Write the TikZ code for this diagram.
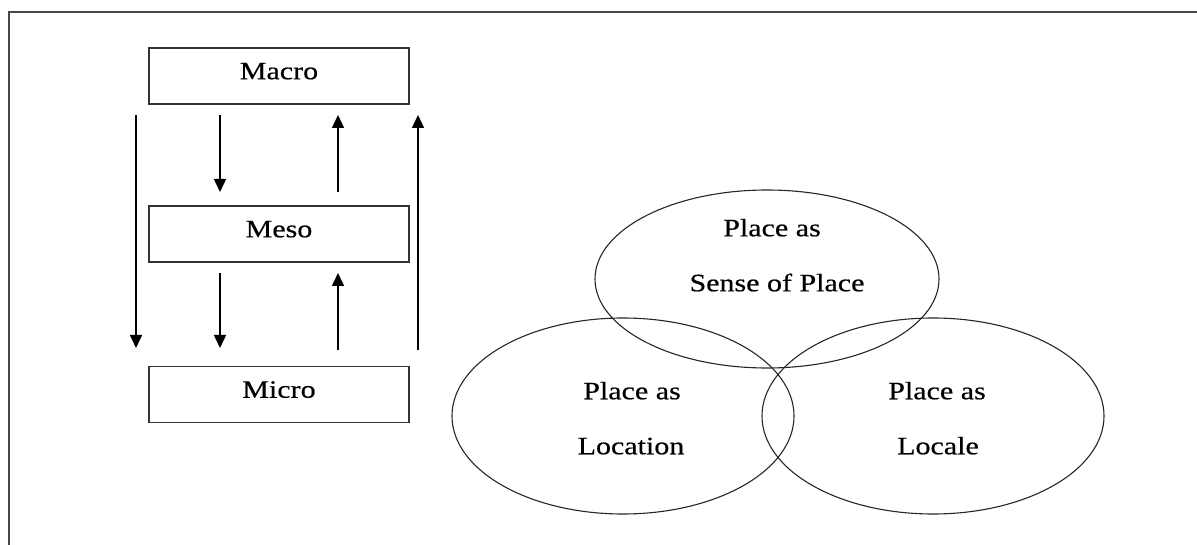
\documentclass[tikz,border=0pt]{standalone}
\usepackage{fontspec}
\setmainfont{Liberation Serif}[FakeStretch=1.2,FakeBold=0.5,AutoFakeBold=0.5]
\usetikzlibrary{arrows.meta,shapes.geometric}
\begin{document}
\begin{tikzpicture}[x=1pt,y=-1pt,
  frame/.style={draw=black!72,line width=1.6pt},
  lvl/.style={draw=black!80,line width=1.3pt,minimum width=260pt,minimum height=56pt,
    inner sep=0pt,text height=16.5pt,text depth=10pt,font=\fontsize{25}{30}\selectfont},
  circ/.style={draw=black!85,line width=1.1pt,ellipse,inner sep=0pt},
  lbl/.style={inner sep=0pt,text height=16.5pt,text depth=0pt,font=\fontsize{25}{30}\selectfont},
  flow/.style={line width=1.5pt,-{Triangle[length=13pt,width=12pt]}}]
\useasboundingbox (0,0) rectangle (1197,545);
\draw[frame] (9,545) -- (9,12) -- (1197,12);
% level boxes
\node[lvl] (macro) at (279,76) {Macro};
\node[lvl] (meso) at (279,234) {Meso};
\node[lvl] (micro) at (279,394.5) {Micro};
% arrow end points
\coordinate (a1s) at (136,115); \coordinate (a1e) at (136,348);
\coordinate (a2s) at (220,115); \coordinate (a2e) at (220,192);
\coordinate (a3s) at (220,273); \coordinate (a3e) at (220,348);
\coordinate (a4s) at (338,192); \coordinate (a4e) at (338,115);
\coordinate (a5s) at (338,350); \coordinate (a5e) at (338,273);
\coordinate (a6s) at (418,350); \coordinate (a6e) at (418,115);
\draw[flow] (a1s) -- (a1e);
\draw[flow] (a2s) -- (a2e);
\draw[flow] (a3s) -- (a3e);
\draw[flow] (a4s) -- (a4e);
\draw[flow] (a5s) -- (a5e);
\draw[flow] (a6s) -- (a6e);
% ellipses
\node[circ,minimum width=344pt,minimum height=178pt] (sense) at (767,279) {};
\node[circ,minimum width=342pt,minimum height=196pt] (location) at (623,416) {};
\node[circ,minimum width=342pt,minimum height=196pt] (locale) at (933,416) {};
% labels
\node[lbl] (s1) at (772,228) {Place as};
\node[lbl] (s2) at (777,283) {Sense of Place};
\node[lbl] (l1) at (632,391) {Place as};
\node[lbl] (l2) at (631,446) {Location};
\node[lbl] (r1) at (937,391) {Place as};
\node[lbl] (r2) at (938,446) {Locale};
\end{tikzpicture}
\end{document}
